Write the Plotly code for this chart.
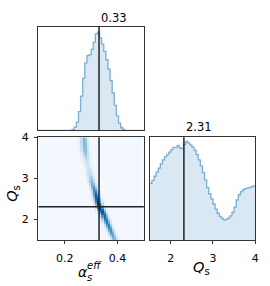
import numpy as np
import plotly.graph_objects as go

# ---------------- data ----------------
alpha_range = [0.1, 0.5]
q_range = [1.5, 4.0]
n_bins = 50

alpha_hist = [0] * 16 + [0.01, 0.03, 0.08, 0.18, 0.33, 0.50, 0.65, 0.72, 0.73, 0.78,
                         0.85, 0.93, 0.945, 0.89, 0.83, 0.76, 0.68, 0.59, 0.48, 0.36,
                         0.24, 0.14, 0.07, 0.025, 0.008] + [0] * 9

q_hist = [0.55, 0.58, 0.62, 0.66, 0.70, 0.74, 0.78, 0.81, 0.83, 0.855,
          0.88, 0.90, 0.90, 0.92, 0.895, 0.89, 0.93, 0.96, 0.945, 0.925,
          0.905, 0.875, 0.83, 0.78, 0.72, 0.655, 0.585, 0.51, 0.45, 0.40,
          0.35, 0.30, 0.26, 0.23, 0.21, 0.195, 0.20, 0.215, 0.235, 0.27,
          0.32, 0.39, 0.44, 0.47, 0.49, 0.50, 0.505, 0.51, 0.52, 0.525]

# ridge of the 2D histogram, one entry per Q row (bottom to top)
ridge_center = [0.389, 0.386, 0.382, 0.378, 0.375, 0.372, 0.368, 0.365, 0.361, 0.358,
                0.355, 0.351, 0.347, 0.343, 0.339, 0.335, 0.332, 0.330, 0.327, 0.325,
                0.323, 0.321, 0.319, 0.317, 0.314, 0.312, 0.309, 0.306, 0.303, 0.301,
                0.299, 0.297, 0.295, 0.293, 0.291, 0.289, 0.287, 0.285, 0.283, 0.282,
                0.280, 0.279, 0.278, 0.277, 0.276, 0.275, 0.275, 0.274, 0.274, 0.273]
ridge_peak = [0.48, 0.52, 0.56, 0.60, 0.63, 0.66, 0.68, 0.70, 0.72, 0.75,
              0.78, 0.80, 0.83, 0.88, 0.93, 0.98, 1.00, 0.97, 0.93, 0.90,
              0.86, 0.82, 0.78, 0.72, 0.66, 0.60, 0.55, 0.50, 0.45, 0.40,
              0.35, 0.30, 0.26, 0.23, 0.21, 0.20, 0.20, 0.21, 0.23, 0.27,
              0.33, 0.38, 0.42, 0.45, 0.47, 0.48, 0.48, 0.48, 0.47, 0.45]
ridge_width = 0.009

median_alpha = 0.33
median_q = 2.31
title_alpha = "0.33"
title_q = "2.31"

alpha_ticks = [0.2, 0.4]
q_ticks = [2, 3, 4]

# ---------------- derived ----------------
a_edges = np.linspace(alpha_range[0], alpha_range[1], n_bins + 1)
q_edges = np.linspace(q_range[0], q_range[1], n_bins + 1)
a_cent = 0.5 * (a_edges[:-1] + a_edges[1:])
q_cent = 0.5 * (q_edges[:-1] + q_edges[1:])

z = []
for c, p in zip(ridge_center, ridge_peak):
    z.append(list(p * np.exp(-0.5 * ((a_cent - c) / ridge_width) ** 2)))

blues = [[0.0, "#f3f8fe"], [0.125, "#deebf7"], [0.25, "#c6dbef"], [0.375, "#9ecae1"],
         [0.5, "#6baed6"], [0.625, "#4292c6"], [0.75, "#2171b5"], [0.875, "#08519c"],
         [1.0, "#08306b"]]

W, H = 270, 286
def fx(px): return px / W
def fy(py): return 1 - py / H

line_col = "rgba(31,119,180,0.55)"
fill_col = "rgba(31,119,180,0.17)"
frame = "#333333"
font = "DejaVu Sans"

fig = go.Figure()

# top marginal
fig.add_trace(go.Scatter(x=list(a_edges), y=alpha_hist + [alpha_hist[-1]],
                         mode="lines", line=dict(shape="hv", color=line_col, width=1.3),
                         fill="tozeroy", fillcolor=fill_col, xaxis="x", yaxis="y",
                         hoverinfo="skip", showlegend=False))
# 2D histogram
fig.add_trace(go.Heatmap(x=list(a_cent), y=list(q_cent), z=z, colorscale=blues,
                         zmin=0, zmax=1, showscale=False, xaxis="x2", yaxis="y2"))
# right marginal
fig.add_trace(go.Scatter(x=list(q_edges), y=q_hist + [q_hist[-1]],
                         mode="lines", line=dict(shape="hv", color=line_col, width=1.3),
                         fill="tozeroy", fillcolor=fill_col, xaxis="x3", yaxis="y3",
                         hoverinfo="skip", showlegend=False))

ax_common = dict(showline=True, mirror=True, linecolor=frame, linewidth=1,
                 showgrid=False, zeroline=False,
                 tickfont=dict(family=font, size=11, color="black"))

fig.update_layout(
    width=W, height=H, margin=dict(l=0, r=0, t=0, b=0),
    paper_bgcolor="white", plot_bgcolor="white", showlegend=False,
    font=dict(family=font, color="black"),
    xaxis=dict(domain=[fx(39), fx(146)], range=alpha_range, anchor="y",
               showticklabels=False, ticks="", **ax_common),
    yaxis=dict(domain=[fy(127), fy(21)], range=[0, 1], anchor="x",
               showticklabels=False, ticks="", **ax_common),
    xaxis2=dict(domain=[fx(39), fx(146)], range=alpha_range, anchor="y2",
                tickvals=alpha_ticks, ticktext=[f"{v:.1f}" for v in alpha_ticks],
                ticks="outside", ticklen=3.5, tickcolor=frame, ticklabelstandoff=4,
                **ax_common),
    yaxis2=dict(domain=[fy(239), fy(134)], range=q_range, anchor="x2",
                tickvals=q_ticks, ticktext=[str(v) for v in q_ticks],
                ticks="outside", ticklen=3.5, tickcolor=frame, ticklabelstandoff=3,
                **ax_common),
    xaxis3=dict(domain=[fx(152), fx(259)], range=q_range, anchor="y3",
                tickvals=q_ticks, ticktext=[str(v) for v in q_ticks],
                ticks="outside", ticklen=3.5, tickcolor=frame, ticklabelstandoff=4,
                **ax_common),
    yaxis3=dict(domain=[fy(239), fy(134)], range=[0, 1], anchor="x3",
                showticklabels=False, ticks="", **ax_common),
)

med = dict(color="#222222", width=1.5)
fig.add_shape(type="line", xref="x", yref="y domain", x0=median_alpha, x1=median_alpha,
              y0=0, y1=1, line=med)
fig.add_shape(type="line", xref="x2", yref="y2 domain", x0=median_alpha, x1=median_alpha,
              y0=0, y1=1, line=med)
fig.add_shape(type="line", xref="x2 domain", yref="y2", x0=0, x1=1,
              y0=median_q, y1=median_q, line=med)
fig.add_shape(type="line", xref="x3", yref="y3 domain", x0=median_q, x1=median_q,
              y0=0, y1=1, line=med)

ann = []
ann.append(dict(text=title_alpha, x=median_alpha, xref="x", y=fy(12), yref="paper",
                xanchor="left", yanchor="middle", showarrow=False,
                font=dict(family=font, size=11.5)))
ann.append(dict(text=title_q, x=median_q, xref="x3", y=fy(124), yref="paper",
                xanchor="left", yanchor="middle", showarrow=False,
                font=dict(family=font, size=11.5)))
# y label
ann.append(dict(text="<i>Q</i><sub>s</sub>", x=fx(13), y=fy(191), xref="paper", yref="paper",
                textangle=-90, xanchor="center", yanchor="middle", showarrow=False,
                font=dict(family=font, size=14.5)))
# x label right
ann.append(dict(text="<i>Q</i><sub>s</sub>", x=fx(205), y=fy(268), xref="paper", yref="paper",
                xanchor="center", yanchor="middle", showarrow=False,
                font=dict(family=font, size=14.5)))
# x label left: alpha with stacked sub/superscript
ann.append(dict(text="<i>α</i>", x=fx(84), y=fy(271.5), xref="paper", yref="paper",
                xanchor="center", yanchor="middle", showarrow=False,
                font=dict(family=font, size=14)))
ann.append(dict(text="<i>eff</i>", x=fx(86.5), y=fy(265.5), xref="paper", yref="paper",
                xanchor="left", yanchor="middle", showarrow=False,
                font=dict(family=font, size=10)))
ann.append(dict(text="<i>s</i>", x=fx(86), y=fy(277), xref="paper", yref="paper",
                xanchor="left", yanchor="middle", showarrow=False,
                font=dict(family=font, size=10)))
fig.update_layout(annotations=ann)

fig.write_html("out.html", config={"displayModeBar": False},
               post_script="document.body.style.margin='0';document.body.style.overflow='hidden';")
